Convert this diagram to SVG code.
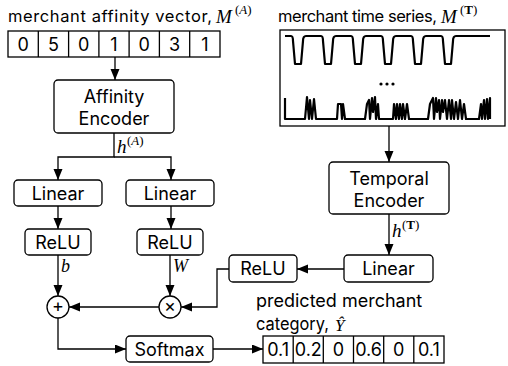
<svg xmlns="http://www.w3.org/2000/svg" width="508" height="366" viewBox="0 0 508 366">
  <style>
    .box { fill: #fff; stroke: #000; stroke-width: 1.3; }
    .cell { fill: none; stroke: #000; stroke-width: 1.3; }
    .lbl { font-family: Inter, "Noto Sans", "Liberation Sans", sans-serif; font-size: 18px; fill: #000; }
    .ttl { font-size: 16.5px; }
    .mid { text-anchor: middle; }
    .math { font-family: "Liberation Serif", "DejaVu Serif", serif; font-style: italic; fill: #000; }
    .sup { font-family: "Liberation Serif", "DejaVu Serif", serif; font-size: 13px; fill: #000; }
    .conn { fill: none; stroke: #000; stroke-width: 1.3; }
    .wave { fill: none; stroke: #000; stroke-width: 2.2; stroke-linejoin: round; }
  </style>
  <defs>
    <marker id="arrow" markerUnits="userSpaceOnUse" markerWidth="12" markerHeight="10" refX="11" refY="4.5" orient="auto">
      <path d="M0,0 L11,4.5 L0,9 z" fill="#000"/>
    </marker>
  </defs>

  <rect width="508" height="366" fill="#fff"/>

  <!-- input affinity vector -->
  <g id="affinity-vector">
    <text class="lbl ttl" x="8" y="22" textLength="204" lengthAdjust="spacing">merchant affinity vector,</text>
    <text class="math" x="216" y="23" font-size="19">M</text>
    <text class="sup" x="235" y="14">(<tspan font-style="italic">A</tspan>)</text>
    <rect class="cell" x="8" y="31" width="212" height="26"/>
    <path class="cell" d="M38.3,31V57M68.6,31V57M98.9,31V57M129.1,31V57M159.4,31V57M189.7,31V57"/>
    <text class="lbl mid" y="50.5" font-size="17"><tspan x="23.1">0</tspan><tspan x="53.4">5</tspan><tspan x="83.7">0</tspan><tspan x="114">1</tspan><tspan x="144.3">0</tspan><tspan x="174.6">3</tspan><tspan x="204.9">1</tspan></text>
  </g>

  <!-- input time series -->
  <g id="time-series">
    <text class="lbl ttl" x="278" y="22" textLength="159" lengthAdjust="spacing">merchant time series,</text>
    <text class="math" x="441" y="23" font-size="19">M</text>
    <text class="sup" x="460" y="14">(<tspan font-weight="bold">T</tspan>)</text>
    <rect class="cell" x="280" y="30" width="225" height="96"/>
    <path class="wave" d="M285,36 H291 Q293,36 293,41 L295,64 H301 L303,41 Q303,36 306,36 H321 Q323,36 323,41 L325,64 H331 L333,41 Q333,36 336,36 H351 Q353,36 353,41 L355,64 H361 L363,41 Q363,36 366,36 H381 Q383,36 383,41 L385,64 H391 L393,41 Q393,36 396,36 H411 Q413,36 413,41 L415,64 H421 L423,41 Q423,36 426,36 H441 Q443,36 443,41 L445,64 H451 L453,41 Q453,36 456,36 H490"/>
    <circle cx="381" cy="84" r="1.6"/><circle cx="387" cy="84" r="1.6"/><circle cx="393" cy="84" r="1.6"/>
    <path class="wave" stroke-width="1.7" d="M285,98 V119 H305 L307,97 L309,119 L310,100 L312,119 L314,99 L316,119 H337 L338,104 H341 L342,119 L343,104 L345,119 H365 L367,104 L369,100 L370,119 L372,98 L373,112 L375,97 L376,119 L378,104 L379,119 H393 L394,104 L396,119 L397,104 L399,119 L400,104 L402,119 L403,104 L405,119 L407,104 L409,119 H428 L430,104 L432,100 L433,98 L434,119 L436,98 L437,112 L439,100 L440,119 L442,100 L443,112 L445,100 L447,119 L449,100 L451,119 L452,100 L454,119 L456,102 L458,119 L460,100 L462,119 L464,104 L466,119 H479 L481,104 L482,119 L484,100 L485,119 L487,99 L488,119 L490,98 V119"/>
  </g>

  <g id="affinity-encoder">
    <rect class="box" x="54" y="80" width="120" height="53" rx="4"/>
    <text class="lbl mid" x="114" y="103">Affinity</text>
    <text class="lbl mid" x="114" y="125">Encoder</text>
  </g>

  <g id="linear-b">
    <rect class="box" x="14" y="180" width="88" height="26" rx="4"/>
    <text class="lbl mid" x="58" y="199.5">Linear</text>
  </g>
  <g id="linear-w">
    <rect class="box" x="126" y="180" width="88" height="26" rx="4"/>
    <text class="lbl mid" x="170" y="199.5">Linear</text>
  </g>
  <g id="relu-b">
    <rect class="box" x="25" y="229" width="66" height="26" rx="4"/>
    <text class="lbl mid" x="58" y="248.5">ReLU</text>
  </g>
  <g id="relu-w">
    <rect class="box" x="137" y="229" width="66" height="26" rx="4"/>
    <text class="lbl mid" x="170" y="248.5">ReLU</text>
  </g>

  <g id="temporal-encoder">
    <rect class="box" x="329" y="162" width="120" height="52" rx="4"/>
    <text class="lbl mid" x="389" y="185">Temporal</text>
    <text class="lbl mid" x="389" y="207">Encoder</text>
  </g>
  <g id="linear-t">
    <rect class="box" x="344" y="255" width="89" height="27" rx="4"/>
    <text class="lbl mid" x="388.5" y="275">Linear</text>
  </g>
  <g id="relu-t">
    <rect class="box" x="229" y="255" width="68" height="27" rx="4"/>
    <text class="lbl mid" x="263" y="275">ReLU</text>
  </g>

  <g id="add">
    <circle class="box" cx="58" cy="307" r="11"/>
    <text class="lbl mid" x="58" y="312" font-size="14">+</text>
  </g>
  <g id="multiply">
    <circle class="box" cx="170" cy="307" r="11"/>
    <text class="lbl mid" x="170" y="312" font-size="14">×</text>
  </g>

  <g id="softmax">
    <rect class="box" x="126" y="336" width="87" height="26" rx="4"/>
    <text class="lbl mid" x="169.5" y="355.5">Softmax</text>
  </g>

  <g id="prediction">
    <text class="lbl" x="256" y="307">predicted merchant</text>
    <text class="lbl" x="256" y="330" textLength="73" lengthAdjust="spacingAndGlyphs">category,</text>
    <text class="math" x="335" y="331" font-size="17">Ŷ</text>
    <rect class="cell" x="263" y="336" width="181" height="27"/>
    <path class="cell" d="M293.2,336V363M323.3,336V363M353.5,336V363M383.7,336V363M413.8,336V363"/>
    <text class="lbl mid" y="355.5"><tspan x="278.1">0.1</tspan><tspan x="308.3">0.2</tspan><tspan x="338.4">0</tspan><tspan x="368.6">0.6</tspan><tspan x="398.8">0</tspan><tspan x="428.9">0.1</tspan></text>
  </g>

  <g id="connectors">
    <path class="conn" d="M115,57 V80" marker-end="url(#arrow)"/>
    <path class="conn" d="M114,133 V157 H58 V180" marker-end="url(#arrow)"/>
    <path class="conn" d="M114,157 H171 V180" marker-end="url(#arrow)"/>
    <path class="conn" d="M58,206 V229" marker-end="url(#arrow)"/>
    <path class="conn" d="M171,206 V229" marker-end="url(#arrow)"/>
    <path class="conn" d="M58,255 V296" marker-end="url(#arrow)"/>
    <path class="conn" d="M170,255 V296" marker-end="url(#arrow)"/>
    <path class="conn" d="M389,126 V162" marker-end="url(#arrow)"/>
    <path class="conn" d="M389,214 V255" marker-end="url(#arrow)"/>
    <path class="conn" d="M344,269 H297" marker-end="url(#arrow)"/>
    <path class="conn" d="M229,269 H217 V307 H181" marker-end="url(#arrow)"/>
    <path class="conn" d="M159,307 H69" marker-end="url(#arrow)"/>
    <path class="conn" d="M58,318 V349 H126" marker-end="url(#arrow)"/>
    <path class="conn" d="M213,349 H263" marker-end="url(#arrow)"/>
    <text class="math" x="117" y="153" font-size="19">h</text>
    <text class="sup" x="127" y="145">(<tspan font-style="italic">A</tspan>)</text>
    <text class="math" x="392" y="237" font-size="19">h</text>
    <text class="sup" x="402" y="229">(<tspan font-weight="bold">T</tspan>)</text>
    <text class="math" x="61" y="272" font-size="18">b</text>
    <text class="math" x="173" y="272" font-size="18">W</text>
  </g>
</svg>
